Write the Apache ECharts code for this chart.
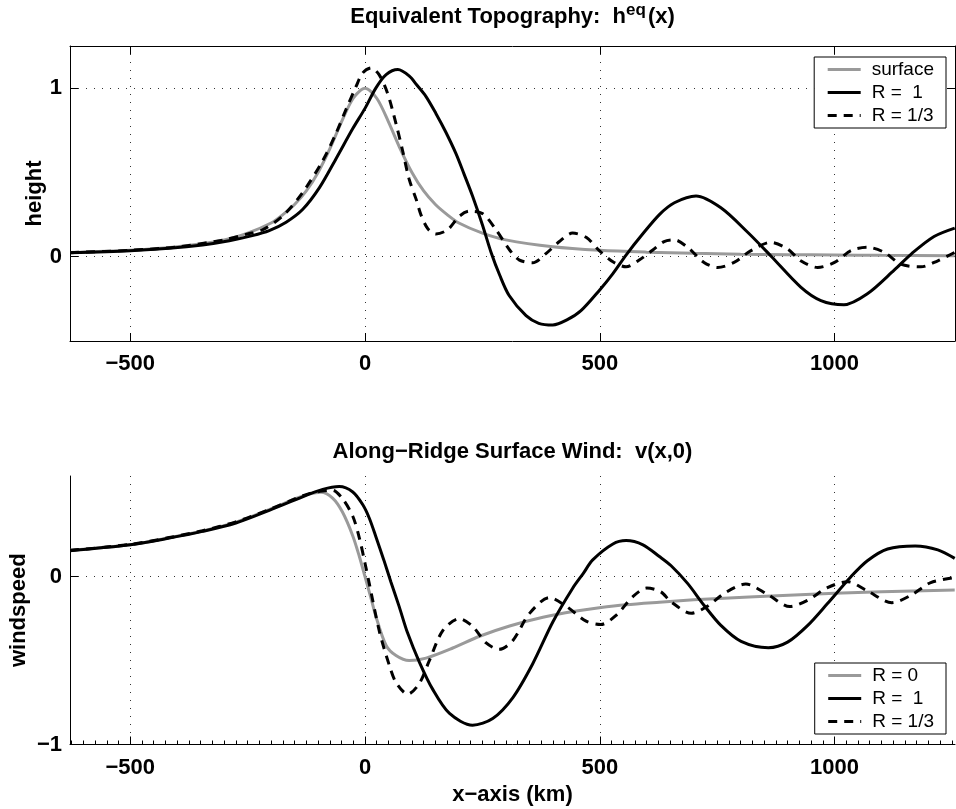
<!DOCTYPE html>
<html>
<head>
<meta charset="utf-8">
<script src="https://cdn.jsdelivr.net/npm/echarts@6/dist/echarts.min.js"></script>
<style>
  html, body { margin: 0; padding: 0; background: #fff; }
  #chart { width: 956px; height: 809px; }
</style>
</head>
<body>
<div id="chart"></div>
<script>
// tick values
const xTicks = [-500, 0, 500, 1000];
const hTicks = [0, 1];
const vTicks = [-1, 0];

// equivalent topography, [x (km), height]
const hSurf = [[-628, 0.025], [-500, 0.038], [-400, 0.059], [-300, 0.10], [-250, 0.14], [-200, 0.20], [-175, 0.25],
  [-150, 0.31], [-125, 0.39], [-100, 0.50], [-75, 0.64], [-50, 0.80], [-25, 0.94], [0, 1.00], [25, 0.94], [50, 0.80],
  [75, 0.64], [100, 0.50], [125, 0.39], [150, 0.31], [175, 0.25], [200, 0.20], [250, 0.14], [300, 0.10], [400, 0.059],
  [500, 0.038], [600, 0.027], [700, 0.02], [800, 0.015], [900, 0.012], [1000, 0.01], [1100, 0.008], [1256, 0.006]];

const hR1 = [[-628, 0.024], [-500, 0.036], [-417, 0.05], [-346, 0.07], [-289, 0.095], [-240, 0.125], [-204, 0.155],
  [-168, 0.205], [-133, 0.28], [-97, 0.41], [-62, 0.58], [-26, 0.76], [0, 0.88], [23, 1.0], [45, 1.08], [70, 1.11],
  [95, 1.07], [110, 1.02], [130, 0.95], [151, 0.85], [172, 0.74], [194, 0.61], [211, 0.49], [229, 0.36], [250, 0.19],
  [268, 0.03], [287, -0.11], [307, -0.23], [343, -0.35], [370, -0.395], [400, -0.405], [430, -0.375], [460, -0.32],
  [499, -0.2], [528, -0.1], [556, 0.01], [590, 0.13], [627, 0.25], [659, 0.32], [705, 0.36], [758, 0.29], [815, 0.145],
  [866, 0.0], [928, -0.18], [971, -0.26], [1020, -0.285], [1070, -0.22], [1127, -0.08], [1165, 0.02], [1212, 0.12],
  [1256, 0.17]];

const hR3 = [[-628, 0.024], [-500, 0.038], [-400, 0.058], [-300, 0.10], [-250, 0.135], [-218, 0.16], [-176, 0.24],
  [-133, 0.38], [-90, 0.57], [-62, 0.73], [-41, 0.87], [-19, 1.01], [-5, 1.09], [13, 1.12], [30, 1.08], [48, 0.97],
  [66, 0.79], [80, 0.63], [94, 0.46], [109, 0.34], [119, 0.25], [134, 0.165], [151, 0.135], [176, 0.16], [201, 0.24],
  [222, 0.27], [251, 0.255], [279, 0.16], [308, 0.04], [329, -0.02], [357, -0.036], [386, 0.02], [414, 0.09],
  [442, 0.14], [471, 0.115], [499, 0.036], [528, -0.03], [556, -0.06], [584, -0.02], [613, 0.04], [637, 0.09],
  [659, 0.10], [687, 0.056], [722, -0.034], [751, -0.064], [786, -0.034], [822, 0.036], [864, 0.085], [900, 0.046],
  [928, -0.024], [964, -0.064], [1000, -0.034], [1035, 0.036], [1070, 0.056], [1106, 0.026], [1141, -0.044],
  [1184, -0.06], [1220, -0.024], [1256, 0.026]];

// along-ridge surface wind, [x (km), windspeed]
const vR0 = [[-628, 0.157], [-500, 0.19], [-417, 0.232], [-346, 0.272], [-275, 0.325], [-204, 0.40], [-147, 0.466],
  [-119, 0.492], [-94, 0.503], [-69, 0.468], [-48, 0.385], [-26, 0.243], [-12, 0.12], [0, 0.0], [12, -0.12],
  [23, -0.235], [45, -0.41], [66, -0.47], [94, -0.50], [130, -0.485], [187, -0.425], [244, -0.355], [308, -0.294],
  [379, -0.242], [450, -0.205], [499, -0.185], [556, -0.167], [627, -0.152], [700, -0.138], [829, -0.119],
  [1000, -0.099], [1100, -0.09], [1256, -0.079]];

const vR1 = [[-628, 0.155], [-500, 0.19], [-417, 0.23], [-346, 0.27], [-275, 0.32], [-204, 0.395], [-133, 0.476],
  [-90, 0.52], [-55, 0.537], [-26, 0.505], [-5, 0.43], [9, 0.35], [23, 0.24], [40, 0.1], [55, -0.03], [73, -0.18],
  [90, -0.33], [116, -0.51], [144, -0.67], [180, -0.815], [229, -0.885], [272, -0.845], [315, -0.72], [357, -0.52],
  [400, -0.27], [442, -0.07], [465, 0.02], [485, 0.1], [528, 0.195], [556, 0.215], [592, 0.19], [627, 0.12],
  [652, 0.065], [687, -0.04], [722, -0.17], [758, -0.29], [801, -0.385], [859, -0.423], [900, -0.39], [943, -0.29],
  [985, -0.16], [1035, 0.0], [1070, 0.095], [1113, 0.165], [1172, 0.183], [1220, 0.16], [1256, 0.109]];

const vR3 = [[-628, 0.157], [-500, 0.192], [-417, 0.233], [-346, 0.274], [-275, 0.327], [-204, 0.40], [-147, 0.466],
  [-119, 0.495], [-90, 0.51], [-69, 0.515], [-48, 0.465], [-26, 0.36], [-12, 0.23], [0, 0.08], [9, -0.04],
  [31, -0.33], [52, -0.53], [66, -0.63], [91, -0.70], [116, -0.635], [137, -0.5], [166, -0.32], [201, -0.25],
  [229, -0.295], [258, -0.395], [286, -0.433], [315, -0.38], [350, -0.22], [393, -0.125], [428, -0.175],
  [471, -0.265], [502, -0.285], [535, -0.23], [570, -0.12], [600, -0.068], [630, -0.09], [652, -0.15], [695, -0.218],
  [730, -0.175], [765, -0.1], [811, -0.044], [857, -0.105], [905, -0.178], [943, -0.14], [985, -0.065],
  [1028, -0.03], [1070, -0.085], [1122, -0.155], [1163, -0.11], [1205, -0.035], [1256, -0.005]];

const FONT = 'Liberation Sans';
const xMin = -628.3, xMax = 1256.6;
const GRAY = '#9a9a9a';

// minor ticks on the lower x-axis, every 25 km
const minorTicks = [];
for (let t = -625; t <= 1250; t += 25) minorTicks.push(t);

const chart = echarts.init(document.getElementById('chart'), null, { renderer: 'canvas' });

function minus(v) {
    return v < 0 ? '\u2212' + Math.abs(v) : String(v);
}

const labelStyle = { fontFamily: FONT, fontSize: 22, fontWeight: 'bold', color: '#000' };
const nameStyle = { fontFamily: FONT, fontSize: 22, fontWeight: 'bold', color: '#000' };
const black = { color: '#000', width: 1 };
const dotted = { show: true, lineStyle: { type: [1, 7], color: '#333', width: 1 } };

function mainX(grid, ticks, extra) {
    return Object.assign({
        gridIndex: grid, type: 'value', min: xMin, max: xMax,
        axisLine: { onZero: false, lineStyle: black },
        axisTick: { inside: true, length: 8, customValues: ticks, lineStyle: black },
        axisLabel: Object.assign({ customValues: ticks, formatter: minus, margin: 12 }, labelStyle),
        splitLine: dotted
    }, extra || {});
}

function plainAxis(grid, pos, min, max, ticks, len, showLine) {
    return {
        gridIndex: grid, type: 'value', position: pos, min: min, max: max,
        axisLine: { show: showLine, onZero: false, lineStyle: black },
        axisTick: { inside: true, length: len, customValues: ticks, lineStyle: black },
        axisLabel: { show: false },
        splitLine: { show: false }
    };
}

function mainY(grid, min, max, ticks, name, gap) {
    return {
        gridIndex: grid, type: 'value', min: min, max: max,
        axisLine: { onZero: false, lineStyle: black },
        axisTick: { inside: true, length: 8, customValues: ticks, lineStyle: black },
        axisLabel: Object.assign({ customValues: ticks, formatter: minus, margin: 8 }, labelStyle),
        splitLine: dotted,
        name: name, nameLocation: 'middle', nameGap: gap, nameMoveOverlap: false, nameTextStyle: nameStyle
    };
}

function line(name, data, xi, yi, color, dash) {
    return {
        name: name, type: 'line', xAxisIndex: xi, yAxisIndex: yi, data: data,
        symbol: 'none', smooth: 0.3,
        lineStyle: { color: color, width: 3, type: dash || 'solid' },
        itemStyle: { color: color }
    };
}

function legend(names, top) {
    return {
        data: names, orient: 'vertical', right: 10, top: top,
        selectedMode: false,
        backgroundColor: '#fff', borderColor: '#000', borderWidth: 1, borderRadius: 0,
        padding: [3, 12, 3, 12], itemGap: 4, itemWidth: 33, itemHeight: 14,
        itemStyle: { opacity: 0, borderWidth: 0 },
        lineStyle: { width: 3 },
        textStyle: { fontFamily: FONT, fontSize: 19, color: '#000', padding: [0, 0, 0, 6] }
    };
}

const titleStyle = {
    fontFamily: FONT, fontSize: 22, fontWeight: 'bold', color: '#000', lineHeight: 30,
    rich: { sup: { fontFamily: FONT, fontSize: 17, fontWeight: 'bold', color: '#000', verticalAlign: 'top', lineHeight: 17, padding: [0, 2, 0, 0] } }
};

chart.setOption({
    animation: false,
    backgroundColor: '#fff',
    title: [
        { text: 'Equivalent Topography:  h{sup|eq}(x)', left: 512.5, top: 2, textAlign: 'center', padding: 0, textStyle: titleStyle },
        { text: 'Along\u2212Ridge Surface Wind:  v(x,0)', left: 512.5, top: 437, textAlign: 'center', padding: 0, textStyle: titleStyle }
    ],
    grid: [
        { left: 70, right: 1, top: 46, height: 295, outerBoundsMode: 'none' },
        { left: 70, right: 1, top: 476, height: 268.5, outerBoundsMode: 'none' }
    ],
    xAxis: [
        mainX(0, xTicks),
        plainAxis(0, 'top', xMin, xMax, xTicks, 8, true),
        mainX(1, xTicks, { name: 'x\u2212axis (km)', nameLocation: 'middle', nameGap: 39, nameMoveOverlap: false, nameTextStyle: nameStyle }),
        plainAxis(1, 'bottom', xMin, xMax, minorTicks, 4, false)
    ],
    yAxis: [
        mainY(0, -0.5, 1.25, hTicks, 'height', 24),
        plainAxis(0, 'right', -0.5, 1.25, hTicks, 8, true),
        mainY(1, -1, 0.6, vTicks, 'windspeed', 40)
    ],
    legend: [
        legend(['surface', 'R =  1', 'R = 1/3'], 57),
        legend(['R = 0', 'R =  1', 'R = 1/3'], 663)
    ],
    series: [
        line('surface', hSurf, 0, 0, GRAY),
        line('R =  1', hR1, 0, 0, '#000'),
        line('R = 1/3', hR3, 0, 0, '#000', [9, 7]),
        line('R = 0', vR0, 2, 2, GRAY),
        line('R =  1', vR1, 2, 2, '#000'),
        line('R = 1/3', vR3, 2, 2, '#000', [9, 7])
    ]
});
</script>
</body>
</html>
